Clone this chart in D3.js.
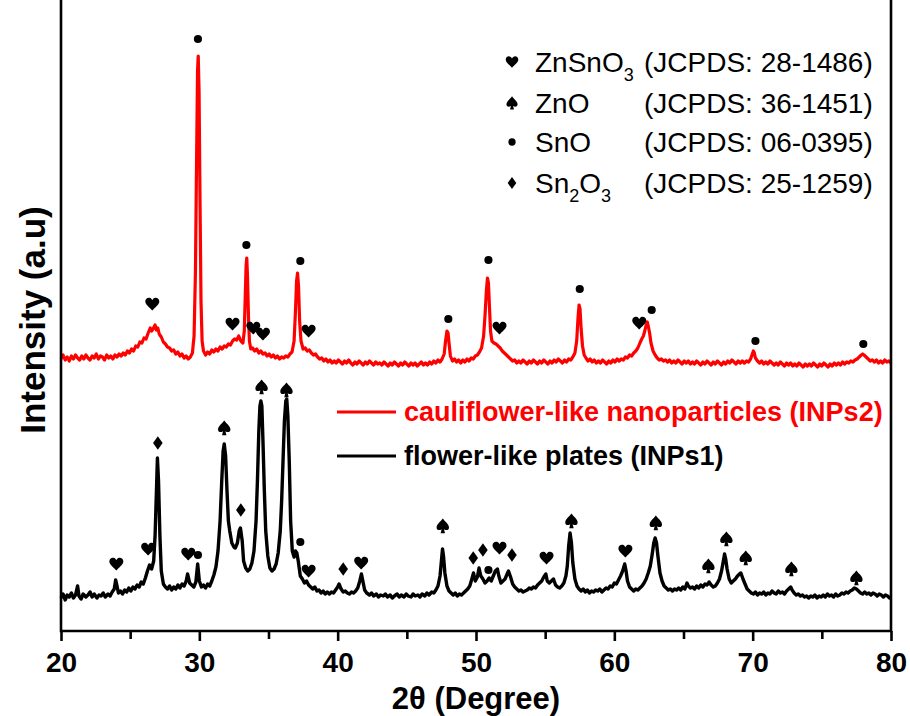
<!DOCTYPE html>
<html>
<head>
<meta charset="utf-8">
<script src="https://cdn.jsdelivr.net/npm/d3@7"></script>
<style>
  body { margin: 0; background: #fff; }
  svg { display: block; font-family: "Liberation Sans", Arial, sans-serif; }
</style>
</head>
<body>
<svg width="910" height="716"></svg>
<script>
// XRD patterns: [2theta (deg), intensity (a.u.)]
var inps2 = [
  [20.0,272],[20.15,276],[20.3,271],[20.45,274],[20.6,270],[20.75,275],[20.9,272],[21.05,276],[21.2,273],[21.35,271],
  [21.5,275],[21.65,272],[21.8,276],[21.95,273],[22.1,271],[22.25,275],[22.4,273],[22.55,277],[22.7,272],[22.85,275],
  [23.0,274],[23.15,271],[23.3,276],[23.45,273],[23.6,275],[23.75,272],[23.9,276],[24.05,274],[24.2,277],[24.35,275],
  [24.5,278],[24.65,276],[24.8,280],[24.95,278],[25.1,282],[25.25,280],[25.4,285],[25.55,284],[25.7,289],[25.85,288],
  [26.0,293],[26.15,292],[26.3,298],[26.45,303],[26.55,300],[26.65,302],[26.8,306],[26.9,301],[27.0,303],[27.1,297],
  [27.25,294],[27.4,289],[27.55,287],[27.7,284],[27.85,283],[28.0,280],[28.15,281],[28.3,277],[28.45,279],[28.6,275],
  [28.75,277],[28.9,273],[29.05,275],[29.2,272],[29.35,274],[29.5,278],[29.62,295],[29.72,360],[29.8,470],[29.87,560],
  [29.92,575],[29.98,540],[30.05,430],[30.12,330],[30.2,290],[30.3,280],[30.45,276],[30.6,279],[30.75,277],[30.9,281],
  [31.05,279],[31.2,282],[31.35,280],[31.5,284],[31.65,282],[31.8,285],[31.95,284],[32.1,287],[32.25,286],[32.4,290],
  [32.55,292],[32.7,291],[32.85,295],[33.0,290],[33.15,288],[33.25,300],[33.32,335],[33.38,365],[33.43,373],[33.48,355],
  [33.55,315],[33.62,290],[33.72,282],[33.85,283],[34.0,280],[34.15,282],[34.3,278],[34.45,280],[34.6,277],[34.75,278],
  [34.9,275],[35.05,277],[35.2,274],[35.35,276],[35.5,273],[35.65,275],[35.8,272],[35.95,274],[36.1,273],[36.25,275],
  [36.4,274],[36.55,277],[36.7,279],[36.85,290],[36.95,320],[37.03,350],[37.1,358],[37.17,345],[37.25,310],[37.35,290],
  [37.5,282],[37.65,283],[37.8,280],[37.95,281],[38.1,278],[38.25,276],[38.4,277],[38.55,274],[38.7,272],[38.85,273],
  [39.0,270],[39.15,272],[39.3,269],[39.45,271],[39.6,268],[39.75,270],[39.9,268],[40.05,271],[40.2,269],[40.35,267],
  [40.5,270],[40.65,268],[40.8,271],[40.95,268],[41.1,266],[41.25,269],[41.4,267],[41.55,270],[41.7,268],[41.85,266],
  [42.0,269],[42.15,267],[42.3,270],[42.45,268],[42.6,266],[42.75,269],[42.9,267],[43.05,268],[43.2,266],[43.35,269],
  [43.5,267],[43.65,265],[43.8,268],[43.95,266],[44.1,269],[44.25,267],[44.4,265],[44.55,268],[44.7,266],[44.85,269],
  [45.0,267],[45.15,265],[45.3,268],[45.45,266],[45.6,268],[45.75,265],[45.9,267],[46.05,269],[46.2,266],[46.35,268],
  [46.5,266],[46.65,269],[46.8,267],[46.95,270],[47.1,268],[47.25,271],[47.4,269],[47.55,272],[47.7,277],[47.8,290],
  [47.9,300],[47.98,298],[48.05,288],[48.15,275],[48.3,270],[48.45,272],[48.6,269],[48.75,271],[48.9,268],[49.05,271],
  [49.2,269],[49.35,272],[49.5,270],[49.65,273],[49.8,272],[49.95,275],[50.1,276],[50.25,279],[50.4,283],[50.55,295],
  [50.65,315],[50.75,340],[50.83,353],[50.9,348],[50.97,325],[51.05,300],[51.15,290],[51.3,288],[51.45,287],[51.6,285],
  [51.75,283],[51.9,280],[52.05,278],[52.2,276],[52.35,274],[52.5,272],[52.65,270],[52.8,271],[52.95,268],[53.1,270],
  [53.25,268],[53.4,271],[53.55,269],[53.7,267],[53.85,270],[54.0,268],[54.15,271],[54.3,269],[54.45,267],[54.6,270],
  [54.75,268],[54.9,271],[55.05,269],[55.2,267],[55.35,270],[55.5,268],[55.65,271],[55.8,269],[55.95,272],[56.1,270],
  [56.25,268],[56.4,271],[56.55,269],[56.7,272],[56.85,271],[57.0,274],[57.15,278],[57.28,290],[57.37,312],[57.45,326],
  [57.52,322],[57.6,302],[57.7,285],[57.82,276],[57.95,273],[58.1,270],[58.25,272],[58.4,269],[58.55,271],[58.7,268],
  [58.85,270],[59.0,268],[59.15,271],[59.3,269],[59.45,267],[59.6,270],[59.75,268],[59.9,271],[60.05,269],[60.2,272],
  [60.35,270],[60.5,272],[60.65,271],[60.8,274],[60.95,273],[61.1,276],[61.25,275],[61.4,278],[61.55,280],[61.7,283],
  [61.85,288],[61.98,292],[62.1,295],[62.2,300],[62.3,306],[62.38,309],[62.45,305],[62.55,298],[62.65,288],[62.8,280],
  [62.95,276],[63.1,273],[63.25,271],[63.4,272],[63.55,270],[63.7,271],[63.85,269],[64.0,271],[64.15,268],[64.3,270],
  [64.45,268],[64.6,271],[64.75,269],[64.9,267],[65.05,270],[65.2,268],[65.35,270],[65.5,267],[65.65,269],[65.8,267],
  [65.95,270],[66.1,268],[66.25,266],[66.4,269],[66.55,267],[66.7,270],[66.85,268],[67.0,266],[67.15,269],[67.3,267],
  [67.45,270],[67.6,268],[67.75,266],[67.9,269],[68.05,267],[68.2,270],[68.35,268],[68.5,271],[68.65,269],[68.8,267],
  [68.95,270],[69.1,268],[69.25,270],[69.4,268],[69.55,270],[69.7,269],[69.85,272],[69.95,276],[70.05,280],[70.12,278],
  [70.2,273],[70.35,270],[70.5,268],[70.65,270],[70.8,267],[70.95,269],[71.1,267],[71.25,270],[71.4,268],[71.55,266],
  [71.7,268],[71.85,266],[72.0,269],[72.15,267],[72.3,265],[72.45,268],[72.6,266],[72.75,268],[72.9,265],[73.05,267],
  [73.2,265],[73.35,268],[73.5,266],[73.65,264],[73.8,267],[73.95,265],[74.1,267],[74.25,265],[74.4,268],[74.55,266],
  [74.7,264],[74.85,267],[75.0,265],[75.15,268],[75.3,266],[75.45,264],[75.6,267],[75.75,265],[75.9,268],[76.05,266],
  [76.2,268],[76.35,266],[76.5,269],[76.65,267],[76.8,269],[76.95,268],[77.1,270],[77.25,269],[77.4,271],[77.55,272],
  [77.7,274],[77.85,276],[77.95,277],[78.05,276],[78.2,274],[78.35,272],[78.5,270],[78.65,271],[78.8,269],[78.95,271],
  [79.1,268],[79.25,270],[79.4,268],[79.55,271],[79.7,269],[79.85,270],[80.0,268]
];

var inps1 = [
  [20.0,33],[20.15,37],[20.3,31],[20.45,36],[20.6,34],[20.75,38],[20.9,33],[21.05,36],[21.2,45],[21.3,35],
  [21.45,32],[21.6,37],[21.8,34],[21.95,36],[22.1,39],[22.25,34],[22.4,37],[22.6,33],[22.75,36],[22.9,35],
  [23.05,38],[23.2,34],[23.4,37],[23.55,35],[23.7,39],[23.85,42],[23.95,51],[24.05,45],[24.15,38],[24.3,40],
  [24.45,37],[24.6,41],[24.75,39],[24.9,43],[25.05,40],[25.2,44],[25.35,42],[25.5,46],[25.65,44],[25.8,49],
  [25.95,47],[26.1,53],[26.25,60],[26.4,66],[26.55,62],[26.7,70],[26.8,95],[26.9,140],[26.97,173],[27.05,150],
  [27.15,95],[27.25,60],[27.4,47],[27.55,44],[27.7,42],[27.85,45],[28.0,41],[28.15,44],[28.3,42],[28.45,46],
  [28.6,43],[28.75,47],[28.9,45],[29.05,50],[29.15,57],[29.3,48],[29.45,46],[29.6,44],[29.75,49],[29.88,67],
  [30.0,50],[30.15,44],[30.3,46],[30.45,43],[30.6,47],[30.75,45],[30.9,50],[31.05,56],[31.2,64],[31.35,80],
  [31.5,110],[31.62,150],[31.72,180],[31.8,187],[31.9,175],[32.0,140],[32.1,110],[32.2,100],[32.35,88],[32.5,84],
  [32.6,83],[32.75,88],[32.88,100],[32.97,103],[33.1,90],[33.2,70],[33.35,63],[33.5,60],[33.65,62],[33.8,68],
  [33.95,80],[34.1,110],[34.2,150],[34.3,200],[34.38,225],[34.45,230],[34.52,225],[34.6,190],[34.7,140],[34.8,100],
  [34.95,75],[35.1,63],[35.25,60],[35.4,62],[35.55,67],[35.7,78],[35.85,100],[35.95,130],[36.05,170],[36.15,210],
  [36.25,230],[36.32,232],[36.4,215],[36.5,170],[36.6,110],[36.72,80],[36.85,74],[36.95,80],[37.05,78],[37.15,70],
  [37.3,55],[37.45,52],[37.6,48],[37.75,50],[37.9,46],[38.05,44],[38.2,42],[38.35,44],[38.5,40],[38.65,41],
  [38.8,38],[38.95,40],[39.1,37],[39.25,39],[39.4,37],[39.55,39],[39.7,38],[39.85,41],[40.0,44],[40.1,47],
  [40.25,42],[40.4,39],[40.55,40],[40.7,38],[40.85,37],[41.0,39],[41.15,38],[41.3,40],[41.45,43],[41.6,50],
  [41.72,57],[41.82,50],[41.95,41],[42.1,38],[42.3,36],[42.45,38],[42.6,35],[42.8,37],[42.95,34],[43.1,36],
  [43.3,35],[43.45,37],[43.6,34],[43.8,36],[43.95,33],[44.1,35],[44.3,37],[44.45,34],[44.6,36],[44.8,34],
  [44.95,37],[45.1,35],[45.3,34],[45.45,37],[45.6,35],[45.8,36],[45.95,34],[46.1,37],[46.3,35],[46.45,38],
  [46.6,36],[46.8,39],[46.95,38],[47.1,41],[47.25,45],[47.4,55],[47.5,70],[47.58,82],[47.65,75],[47.75,58],
  [47.9,45],[48.05,40],[48.2,38],[48.35,36],[48.5,38],[48.65,35],[48.8,37],[48.95,36],[49.1,38],[49.25,40],
  [49.4,42],[49.55,45],[49.7,52],[49.82,58],[49.95,50],[50.1,54],[50.22,63],[50.35,55],[50.5,52],[50.65,48],
  [50.8,50],[50.95,53],[51.1,50],[51.25,55],[51.4,60],[51.55,62],[51.65,55],[51.8,48],[51.95,50],[52.1,52],
  [52.25,57],[52.35,60],[52.5,54],[52.65,47],[52.8,44],[52.95,42],[53.1,40],[53.25,41],[53.4,39],[53.55,40],
  [53.7,41],[53.85,43],[54.0,42],[54.15,44],[54.3,43],[54.45,46],[54.6,48],[54.75,50],[54.9,54],[55.05,57],
  [55.15,50],[55.3,48],[55.45,50],[55.6,52],[55.75,46],[55.9,44],[56.05,43],[56.2,45],[56.35,48],[56.5,55],
  [56.6,65],[56.7,85],[56.8,98],[56.9,88],[57.0,68],[57.15,52],[57.3,45],[57.45,42],[57.6,40],[57.75,42],
  [57.9,39],[58.05,41],[58.2,38],[58.35,40],[58.5,39],[58.65,41],[58.8,40],[58.95,42],[59.1,39],[59.25,41],
  [59.4,43],[59.55,42],[59.7,45],[59.85,44],[60.0,48],[60.15,47],[60.3,51],[60.45,55],[60.6,60],[60.75,67],
  [60.85,60],[60.95,50],[61.1,44],[61.25,42],[61.4,40],[61.55,42],[61.7,41],[61.85,43],[62.0,45],[62.15,48],
  [62.3,52],[62.45,58],[62.6,65],[62.75,78],[62.85,88],[62.95,93],[63.05,88],[63.15,75],[63.3,58],[63.45,50],
  [63.6,45],[63.75,43],[63.9,41],[64.05,42],[64.2,40],[64.35,42],[64.5,41],[64.65,43],[64.8,41],[64.95,44],
  [65.1,42],[65.25,48],[65.35,45],[65.5,43],[65.65,44],[65.8,42],[65.95,45],[66.1,43],[66.25,46],[66.4,44],
  [66.55,47],[66.7,46],[66.85,49],[67.0,46],[67.15,44],[67.3,45],[67.45,48],[67.6,52],[67.75,60],[67.88,70],
  [67.97,77],[68.05,72],[68.15,62],[68.3,52],[68.45,48],[68.6,50],[68.75,52],[68.9,55],[69.05,57],[69.15,58],
  [69.3,52],[69.45,47],[69.6,42],[69.75,40],[69.9,38],[70.05,37],[70.2,39],[70.35,36],[70.5,38],[70.65,37],
  [70.8,39],[70.95,36],[71.1,38],[71.25,37],[71.4,40],[71.55,38],[71.7,37],[71.85,40],[72.0,38],[72.15,39],
  [72.3,37],[72.45,40],[72.6,42],[72.75,44],[72.85,41],[73.0,38],[73.15,36],[73.3,37],[73.45,35],[73.6,36],
  [73.75,34],[73.9,35],[74.05,33],[74.2,35],[74.35,34],[74.5,36],[74.65,33],[74.8,35],[74.95,34],[75.1,36],
  [75.25,34],[75.4,37],[75.55,35],[75.7,36],[75.85,34],[76.0,37],[76.15,35],[76.3,36],[76.45,38],[76.6,37],
  [76.75,39],[76.9,38],[77.05,40],[77.2,41],[77.35,43],[77.5,42],[77.65,40],[77.8,38],[77.95,37],[78.1,39],
  [78.25,37],[78.4,38],[78.55,36],[78.7,38],[78.85,37],[79.0,35],[79.15,37],[79.3,36],[79.45,34],[79.6,36],
  [79.75,35],[79.9,33],[80.0,34]
];

// phase marks above the peaks: [symbol, 2theta, intensity]
var marks2 = [
  ["heart",26.6,327],["dot",29.9,592],["heart",32.4,307],["dot",33.4,386],["heart",33.9,303],["heart",34.6,297],
  ["dot",37.3,370],["heart",37.9,300],["dot",48.0,312],["dot",50.9,371],["heart",51.7,303],["dot",57.5,342],
  ["heart",61.8,308],["dot",62.7,321],["dot",70.2,290],["dot",78.0,287]
];
var marks1 = [
  ["heart",24.0,67],["heart",26.3,82],["diamond",27.0,188],["heart",29.2,77],["dot",29.9,76],["spade",31.8,203],
  ["diamond",33.0,121],["spade",34.5,244],["spade",36.3,241],["dot",37.3,89],["heart",37.9,60],["diamond",40.4,62],
  ["heart",41.7,68],["spade",47.6,105],["diamond",49.8,73],["diamond",50.5,81],["dot",50.9,61],["heart",51.7,83],
  ["diamond",52.6,76],["heart",55.1,73],["spade",56.9,110],["heart",60.8,80],["spade",63.0,108],["spade",66.8,65],
  ["spade",68.1,92],["spade",69.5,73],["spade",72.8,62],["spade",77.5,53]
];

var xMajor = [20, 30, 40, 50, 60, 70, 80];
var xMinor = [25, 35, 45, 55, 65, 75];

var seriesNames  = ["cauliflower-like nanoparticles (INPs2)", "flower-like plates (INPs1)"];
var seriesColors = ["#ff0000", "#000000"];

var phaseSymbols = ["heart", "spade", "dot", "diamond"];
var phaseNames   = [[["ZnSnO",0],["3",1]], [["ZnO",0]], [["SnO",0]], [["Sn",0],["2",1],["O",0],["3",1]]];
var phaseCards   = ["(JCPDS: 28-1486)", "(JCPDS: 36-1451)", "(JCPDS: 06-0395)", "(JCPDS: 25-1259)"];

var W = 910, H = 716;
var m = { left: 61, right: 19, top: 0, bottom: 85 };

var svg = d3.select("svg");

var x = d3.scaleLinear().domain([20, 80]).range([m.left, W - m.right]);
var y = d3.scaleLinear().domain([0, 631]).range([H - m.bottom, m.top]);

var shapes = {
    heart: "M0,6.5C-2.5,3.5 -7,0.5 -7,-2.5C-7,-5.5 -4.5,-6.6 -2.8,-6.2C-1.3,-5.9 -0.4,-4.8 0,-3.8C0.4,-4.8 1.3,-5.9 2.8,-6.2C4.5,-6.6 7,-5.5 7,-2.5C7,0.5 2.5,3.5 0,6.5Z",
    spade: "M0,-7.5C-2,-4.5 -6.2,-1.8 -6.2,1.4C-6.2,4 -3.6,5 -1.2,3.2L-2.2,7.2L2.2,7.2L1.2,3.2C3.6,5 6.2,4 6.2,1.4C6.2,-1.8 2,-4.5 0,-7.5Z",
    diamond: "M0,-6.8L4.8,0L0,6.8L-4.8,0Z",
    dot: d3.symbol(d3.symbolCircle, 52)()
};

// traces
var line = d3.line().x(d => x(d[0])).y(d => y(d[1]));

svg.append("path")
    .attr("fill", "none").attr("stroke", seriesColors[1])
    .attr("stroke-width", 3.4).attr("stroke-linejoin", "round")
    .attr("d", line(inps1));

svg.append("path")
    .attr("fill", "none").attr("stroke", seriesColors[0])
    .attr("stroke-width", 3.2).attr("stroke-linejoin", "round")
    .attr("d", line(inps2));

// peak marks
svg.append("g").selectAll("path")
    .data(marks2.concat(marks1)).enter().append("path")
    .attr("d", d => shapes[d[0]])
    .attr("transform", d => "translate(" + x(d[1]) + "," + y(d[2]) + ")")
    .attr("fill", "#000");

// frame (no top edge visible in the original)
svg.append("path")
    .attr("fill", "none").attr("stroke", "#000").attr("stroke-width", 2.6)
    .attr("d", "M" + x(20) + "," + y(631) + "V" + y(0) + "H" + x(80) + "V" + y(631));

// x axis
var gx = svg.append("g").attr("transform", "translate(0," + y(0) + ")");
gx.call(d3.axisBottom(x).tickValues(xMajor).tickSize(10).tickPadding(11).tickFormat(d3.format("d")));
gx.append("g").call(d3.axisBottom(x).tickValues(xMinor).tickSize(8).tickFormat(""));
gx.selectAll(".domain").remove();
gx.selectAll("line").attr("stroke", "#000").attr("stroke-width", 2.6);
gx.selectAll("text")
    .attr("fill", "#000")
    .style("font-family", "'Liberation Sans', Arial, sans-serif")
    .style("font-size", "28px").style("font-weight", "bold");

svg.append("text")
    .attr("x", (x(20) + x(80)) / 2).attr("y", 709)
    .attr("text-anchor", "middle")
    .style("font-size", "31px").style("font-weight", "bold")
    .text("2\u03b8 (Degree)");

svg.append("text")
    .attr("transform", "translate(45," + 320 + ") rotate(-90)")
    .attr("text-anchor", "middle")
    .style("font-size", "35px").style("font-weight", "bold")
    .text("Intensity (a.u)");

// series legend
var sl = svg.append("g").selectAll("g")
    .data(seriesNames).enter().append("g")
    .attr("transform", (d, i) => "translate(337," + (412 + i * 44) + ")");
sl.append("line")
    .attr("x1", 0).attr("x2", 59)
    .attr("stroke", (d, i) => seriesColors[i]).attr("stroke-width", 3);
sl.append("text")
    .attr("x", 67).attr("y", 9)
    .attr("fill", (d, i) => seriesColors[i])
    .style("font-size", "27px").style("font-weight", "bold")
    .text(d => d);

// phase legend
var pl = svg.append("g").selectAll("g")
    .data(phaseSymbols).enter().append("g")
    .attr("transform", (d, i) => "translate(512," + [62, 103, 142, 183][i] + ")");
pl.append("path")
    .attr("d", d => shapes[d])
    .attr("transform", "scale(0.9)")
    .attr("fill", "#000");
var pt = pl.append("text")
    .attr("x", 23).attr("y", 10)
    .style("font-size", "28px");
pt.selectAll("tspan")
    .data((d, i) => phaseNames[i]).enter().append("tspan")
    .attr("dy", (d, j, nodes) => {
        var prev = j > 0 ? d3.select(nodes[j - 1]).datum()[1] : 0;
        return (d[1] - prev) * 9;
    })
    .style("font-size", d => d[1] ? "18px" : "28px")
    .text(d => d[0]);
pl.append("text")
    .attr("x", 132).attr("y", 10)
    .style("font-size", "28px")
    .text((d, i) => phaseCards[i]);
</script>
</body>
</html>
